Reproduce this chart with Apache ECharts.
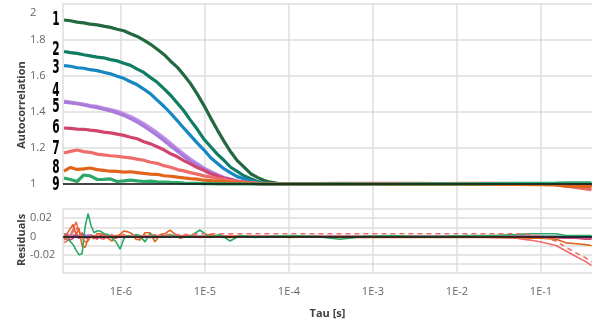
<!DOCTYPE html>
<html><head><meta charset="utf-8">
<script src="https://cdn.jsdelivr.net/npm/echarts@6/dist/echarts.min.js"></script>
<style>html,body{margin:0;padding:0;background:#fff}#c{width:593px;height:324px}</style>
</head><body><div id="c"></div>
<script>
// ---- data ----
const tau = [2.1e-7,2.5e-7,3e-7,3.6e-7,4.3e-7,5.2e-7,6.2e-7,7.5e-7,9e-7,1.08e-6,
  1.3e-6,1.56e-6,1.87e-6,2.25e-6,2.7e-6,3.24e-6,3.9e-6,4.7e-6,5.6e-6,6.7e-6,
  8.1e-6,9.7e-6,1.17e-5,1.4e-5,1.68e-5,2.02e-5,2.42e-5,2.9e-5,3.5e-5,4.2e-5,
  5e-5,6e-5,7.3e-5,8.7e-5,1.05e-4,
  2e-4,4e-4,8e-4,1.6e-3,3.2e-3,6.4e-3,1.3e-2,2.6e-2,5e-2,0.1,0.15,0.2,0.26,0.33,0.4];

const g1 = [1.911,1.907,1.899,1.895,1.888,1.884,1.877,1.870,1.860,1.851,
  1.835,1.820,1.799,1.776,1.749,1.720,1.682,1.648,1.605,1.559,
  1.499,1.437,1.366,1.301,1.238,1.179,1.130,1.095,1.057,1.037,
  1.021,1.010,1.004,1.001,1.000,
  1.000,1.001,1.000,0.999,1.000,1.000,1.000,1.001,1.000,1.000,0.999,0.998,0.998,0.997,0.997];
const g2 = [1.736,1.730,1.726,1.718,1.712,1.705,1.701,1.691,1.684,1.671,
  1.659,1.638,1.620,1.591,1.565,1.530,1.493,1.449,1.407,1.355,
  1.304,1.249,1.207,1.166,1.132,1.093,1.070,1.046,1.029,1.014,
  1.008,1.003,1.001,1.000,1.000,
  1.000,1.000,1.001,1.000,1.000,0.999,1.000,1.000,1.000,1.000,0.999,0.998,0.998,0.998,0.997];
const g3 = [1.658,1.654,1.646,1.643,1.635,1.630,1.621,1.612,1.599,1.587,
  1.568,1.551,1.527,1.501,1.466,1.432,1.393,1.351,1.310,1.270,
  1.227,1.190,1.146,1.115,1.085,1.062,1.041,1.029,1.016,1.009,
  1.004,1.001,1.000,1.000,1.000,
  1.000,1.000,1.000,1.000,1.001,1.000,1.000,1.000,1.000,1.000,0.999,0.998,0.998,0.997,0.997];
const g4 = [1.460,1.455,1.449,1.444,1.436,1.431,1.422,1.414,1.404,1.391,
  1.375,1.356,1.335,1.310,1.285,1.257,1.226,1.195,1.167,1.139,
  1.113,1.090,1.070,1.053,1.038,1.027,1.018,1.011,1.006,1.003,
  1.001,1.000,1.000,1.000,1.000,
  1.000,1.000,1.000,1.000,1.000,1.000,1.000,1.000,1.000,0.999,0.998,0.997,0.997,0.996,0.996];
const g5 = [1.455,1.450,1.446,1.439,1.431,1.424,1.415,1.406,1.395,1.381,
  1.363,1.344,1.321,1.296,1.270,1.242,1.211,1.182,1.154,1.127,
  1.102,1.081,1.062,1.046,1.033,1.023,1.015,1.009,1.005,1.002,
  1.001,1.000,1.000,1.000,1.000,
  1.000,1.000,1.000,1.000,1.000,1.000,1.000,0.999,1.000,0.999,0.998,0.997,0.996,0.996,0.995];
const g6 = [1.311,1.309,1.305,1.304,1.299,1.295,1.288,1.284,1.277,1.270,
  1.260,1.251,1.235,1.223,1.207,1.190,1.168,1.151,1.130,1.112,
  1.091,1.076,1.057,1.045,1.032,1.024,1.015,1.010,1.004,1.002,
  1.000,1.000,1.000,1.000,1.000,
  1.000,1.000,1.000,1.000,1.000,1.000,1.000,1.000,1.000,0.999,0.998,0.997,0.997,0.996,0.996];
const g7 = [1.172,1.181,1.189,1.180,1.176,1.166,1.162,1.157,1.154,1.149,
  1.145,1.138,1.132,1.121,1.115,1.102,1.093,1.080,1.073,1.063,
  1.055,1.045,1.039,1.030,1.026,1.018,1.015,1.010,1.008,1.005,
  1.004,1.002,1.002,1.002,1.002,
  1.002,1.003,1.003,1.003,1.003,1.002,1.003,1.003,1.002,1.000,0.996,0.988,0.981,0.974,0.968];
const g8 = [1.072,1.092,1.081,1.084,1.089,1.080,1.076,1.071,1.070,1.066,
  1.068,1.063,1.059,1.055,1.054,1.046,1.043,1.038,1.034,1.030,
  1.027,1.021,1.019,1.014,1.013,1.008,1.008,1.005,1.004,1.002,
  1.001,1.001,1.000,1.000,1.000,
  0.999,0.999,0.999,0.998,0.998,0.998,0.998,0.998,0.998,0.997,0.995,0.988,0.986,0.985,0.984];
const g9 = [1.033,1.025,1.014,1.050,1.045,1.025,1.026,1.028,1.014,1.017,
  1.022,1.017,1.014,1.016,1.012,1.011,1.009,1.008,1.005,1.004,
  1.003,1.002,1.002,1.001,1.001,1.000,1.001,1.000,1.000,1.000,
  1.000,1.000,1.000,1.000,1.000,
  1.000,1.001,1.000,1.000,1.001,1.001,1.001,1.002,1.003,1.004,1.005,1.006,1.006,1.006,1.006];

const resTau = [2.10e-7,2.28e-7,2.47e-7,2.69e-7,2.92e-7,3.16e-7,3.44e-7,3.73e-7,4.05e-7,4.40e-7,
  4.78e-7,5.19e-7,5.63e-7,6.28e-7,7.01e-7,7.82e-7,8.73e-7,9.74e-7,1.087e-6,1.213e-6,
  1.353e-6,1.51e-6,1.686e-6,1.93e-6,2.22e-6,2.54e-6,2.92e-6,3.34e-6,3.83e-6,5.04e-6,
  6.63e-6,8.73e-6,1.148e-5,1.51e-5,1.99e-5,2.61e-5,3.94e-5,5.95e-5,1.03e-4,2.04e-4,
  4.06e-4,8.04e-4,1.6e-3,3.16e-3,6.45e-3,1.32e-2,2.61e-2,5.04e-2,7.4e-2,0.1,
  0.151,0.199,0.261,0.334,0.4];

const r1 = [0,0.001,-0.001,0,0.001,0,-0.001,0,0.001,0, 0,-0.001,0,0,0.001,0,0,-0.001,0,0,
  0.001,0,0,0,-0.001,0,0,0,0,0, 0,0,0,0,0,0,0,0,0,0, 0,0,0,0,0,0,0,0,0,0, 0,0,0,0,0];
const r2 = [0.001,0.002,-0.001,0.001,0,-0.001,0.001,0,-0.001,0.001, 0,0,0.001,-0.001,0,0,0.001,0,0,-0.001,
  0,0,0,0.001,0,0,0,0,0,0, 0,0,0,0,0,0,0,0,0,0, 0,0,0,0,0,0,0,0,0,0, 0,0,0,0,0];
const r3 = [0.003,0.002,0.001,-0.001,0.001,0,0.002,-0.001,0.001,0, 0,0.001,-0.001,0,0.001,0,-0.001,0,0.001,0,
  0,0,0.001,0,0,-0.001,0,0,0,0, 0,0,0,0,0,0,0,0,0,0, 0,0,0,0,0,0,0,0,0,0, 0,-0.001,-0.001,-0.001,-0.001];
const r4 = [0.002,0.003,0,-0.001,0.002,0.001,-0.001,0,0.002,0.001, -0.001,0,0.001,0,0.001,-0.001,0,0.001,0,0,
  0,0.001,0,0,-0.001,0,0.001,0,0,0, 0,0,0,0,0,0,0,0,0,0, 0,0,0,0,0,0,0,0,0,0, -0.001,-0.001,-0.002,-0.002,-0.002];
const r5 = [0.003,0.001,-0.001,0.002,0,-0.002,0.001,0.002,-0.001,0, 0.001,-0.001,0,0.001,-0.001,0,0.001,0,-0.001,0,
  0.001,0,0,-0.001,0,0.001,0,0,0,0, 0,0,0,0,0,0,0,0,0,0, 0,0,0,0,0,0,0,0,0,0, -0.001,-0.002,-0.002,-0.002,-0.002];
const r6 = [-0.003,0.002,-0.004,-0.002,0.003,-0.002,0.004,-0.001,-0.003,0.002, -0.001,-0.003,0.001,-0.002,0.001,0,-0.002,0.001,0,-0.001,
  0.001,0,-0.001,0.001,0,-0.001,0.001,0,0,0.001, 0,-0.001,0,0.001,0,0,0,0,0,0, 0,0,0,0,0,0,0,0,0,-0.001, -0.001,-0.002,-0.002,-0.003,-0.003];
const r7 = [-0.007,-0.005,0,0.008,0.016,0.005,-0.001,-0.006,-0.005,0, -0.003,0.002,-0.002,-0.003,0,0.002,-0.001,0,0.002,-0.001,
  0.001,0,-0.002,0.001,0,0.002,-0.001,0,0.001,0, 0.001,0,-0.001,0,0.001,0,0,0,0,0, 0,0,0,0,0,0,-0.001,-0.002,-0.004,-0.006, -0.010,-0.016,-0.022,-0.027,-0.032];
const r7b = [-0.004,-0.002,0.002,0.005,0.010,0.003,0,-0.003,-0.002,0.001, -0.001,0.001,0,-0.001,0.001,0.001,0,0.001,0.001,0,
  0.001,0.001,0,0.001,0.001,0.001,0.001,0.002,0.002,0.002, 0.002,0.003,0.003,0.003,0.003,0.003,0.003,0.003,0.003,0.003,
  0.003,0.003,0.003,0.003,0.003,0.003,0.003,0.003,0.002,0, -0.005,-0.012,-0.018,-0.023,-0.028];
const r8 = [0,0.003,0.008,0.013,0.002,0.009,-0.010,-0.012,-0.003,0.001, -0.002,0.003,0.003,0.002,-0.002,-0.005,0,0.002,0.006,0.005,
  0.003,-0.003,-0.004,0.004,0.004,-0.006,0.002,0.003,0.007,-0.002, 0.001,-0.001,0.002,0,-0.001,0.001,0,0,-0.001,0,
  -0.001,-0.001,-0.001,-0.001,-0.001,-0.001,-0.001,-0.001,-0.002,-0.002, -0.003,-0.007,-0.008,-0.009,-0.010];
const r9 = [0,-0.003,-0.005,-0.009,-0.015,-0.020,-0.019,0.010,0.025,0.012, 0.004,0.006,0.006,0.003,0.002,-0.002,-0.006,-0.014,-0.002,0.001,
  0,0.002,0.001,-0.006,0.003,0,0.001,-0.001,0.002,-0.001, 0,0.007,-0.001,0.002,-0.005,0.001,-0.001,0,0.001,0,
  -0.003,0,0.001,0,0,0.001,0.001,0.002,0.003,0.003, 0.003,0.001,0.001,0.001,0.001];

const curveNames = ['1','2','3','4','5','6','7','8','9'];
const curveColors = ['#22693f','#0f7d64','#1787c4','#bd8fe6','#a97ad9','#d1446d','#ee6c6a','#e0641c','#2ca868'];
const xTicks = [1e-6,1e-5,1e-4,1e-3,1e-2,1e-1];
const xMin = 2.04e-7, xMax = 0.405;

const curves = [g1,g2,g3,g4,g5,g6,g7,g8,g9];
const resids = [r1,r2,r3,r4,r5,r6,r7,r8,r9];

// label positions (layout)
const labelY = [20,50,68,91,107,128,149,168,185];

const FONT = '"Open Sans", "Noto Sans", sans-serif';
const GRID = '#dedede';

const series = [];
curves.forEach((c, i) => {
  series.push({
    name: curveNames[i], type: 'line', xAxisIndex: 0, yAxisIndex: 0,
    data: tau.map((t, j) => [t, c[j]]), symbol: 'none', clip: false,
    lineStyle: { width: 3.2, color: curveColors[i] }, z: 3
  });
});
series.push({
  name: 'base', type: 'line', xAxisIndex: 0, yAxisIndex: 0, data: [], symbol: 'none',
  markLine: { silent: true, symbol: 'none', label: { show: false }, animation: false,
    lineStyle: { color: '#111', width: 1.6, type: 'solid' }, data: [{ yAxis: 1 }] }, z: 5
});
resids.forEach((r, i) => {
  series.push({
    name: 'res' + curveNames[i], type: 'line', xAxisIndex: 1, yAxisIndex: 1,
    data: resTau.map((t, j) => [t, r[j]]), symbol: 'none', clip: false,
    lineStyle: { width: 1.6, color: curveColors[i] }, z: 3
  });
});
series.push({
  name: 'res7b', type: 'line', xAxisIndex: 1, yAxisIndex: 1,
  data: resTau.map((t, j) => [t, r7b[j]]), symbol: 'none',
  lineStyle: { width: 1.6, color: '#ee6c6a', type: [5, 4] }, z: 3
});
series.push({
  name: 'zero', type: 'line', xAxisIndex: 1, yAxisIndex: 1, data: [], symbol: 'none',
  markLine: { silent: true, symbol: 'none', label: { show: false }, animation: false,
    lineStyle: { color: '#111', width: 1.6, type: 'solid' }, data: [{ yAxis: 0 }] }, z: 5
});

const graphics = curveNames.map((n, i) => ({
  type: 'text', x: 56, y: labelY[i], scaleX: 0.62, z: 10,
  style: { text: n, font: 'bold 19px "DejaVu Sans Condensed", "DejaVu Sans", sans-serif',
    fill: '#000', align: 'center', verticalAlign: 'middle' }
}));
graphics.push({ type: 'text', x: 22, y: 105, rotation: Math.PI / 2,
  style: { text: 'Autocorrelation', font: 'bold 11px ' + FONT, fill: '#404040', align: 'center', verticalAlign: 'middle' } });
graphics.push({ type: 'text', x: 22, y: 240, rotation: Math.PI / 2,
  style: { text: 'Residuals', font: 'bold 11px ' + FONT, fill: '#404040', align: 'center', verticalAlign: 'middle' } });

const chart = echarts.init(document.getElementById('c'), null, { renderer: 'canvas' });
chart.setOption({
  animation: false,
  backgroundColor: '#fff',
  grid: [
    { left: 63, right: 1, top: 4, height: 180 },
    { left: 63, right: 1, top: 209, height: 64 },
    { left: 63, right: 1, top: 4, bottom: 51 }
  ],
  xAxis: [
    { type: 'log', gridIndex: 0, min: xMin, max: xMax, show: false },
    { type: 'log', gridIndex: 1, min: xMin, max: xMax,
      axisLine: { show: false },
      axisTick: { show: true, length: 7, lineStyle: { color: GRID, width: 1.5 }, customValues: xTicks },
      splitLine: { show: false },
      axisLabel: { customValues: xTicks, color: '#666', fontSize: 11, fontFamily: FONT, margin: 13,
        formatter: v => '1E' + Math.round(Math.log10(v)) },
      name: 'Tau [s]', nameLocation: 'middle', nameGap: 35,
      nameTextStyle: { fontWeight: 'bold', fontSize: 11, fontFamily: FONT, color: '#404040' } },
    { type: 'log', gridIndex: 2, min: xMin, max: xMax,
      axisLine: { show: false }, axisTick: { show: false }, axisLabel: { show: false },
      splitLine: { show: true, showMinLine: false, showMaxLine: false, lineStyle: { color: GRID, width: 1.5 } } }
  ],
  yAxis: [
    { type: 'value', gridIndex: 0, min: 1, max: 2, interval: 0.2,
      axisLine: { show: true, lineStyle: { color: GRID, width: 1.5 } },
      axisTick: { show: false },
      splitLine: { show: true, lineStyle: { color: GRID, width: 1.5 } },
      axisLabel: { color: '#666', fontSize: 11, fontFamily: FONT, align: 'left', margin: 33,
        formatter: v => (Math.abs(v - 2) < 1e-9 ? '{t|2}' : String(+v.toFixed(1))),
        rich: { t: { padding: [18, 0, 0, 0], color: '#666', fontSize: 11, fontFamily: FONT } } } },
    { type: 'value', gridIndex: 1, min: -0.04, max: 0.03, interval: 0.01,
      axisLine: { show: true, lineStyle: { color: GRID, width: 1.5 } },
      axisTick: { show: false },
      splitLine: { show: true, lineStyle: { color: GRID, width: 1.5 } },
      axisLabel: { color: '#666', fontSize: 11, fontFamily: FONT, align: 'left', margin: 33,
        formatter: v => { const k = Math.round(v * 100); if (k % 2 !== 0 || Math.abs(k) > 2) return ''; return k === 0 ? '0' : (k / 100).toFixed(2); } } },
    { type: 'value', gridIndex: 2, show: false, min: 0, max: 1 }
  ],
  graphic: graphics,
  series: series
});
</script></body></html>
